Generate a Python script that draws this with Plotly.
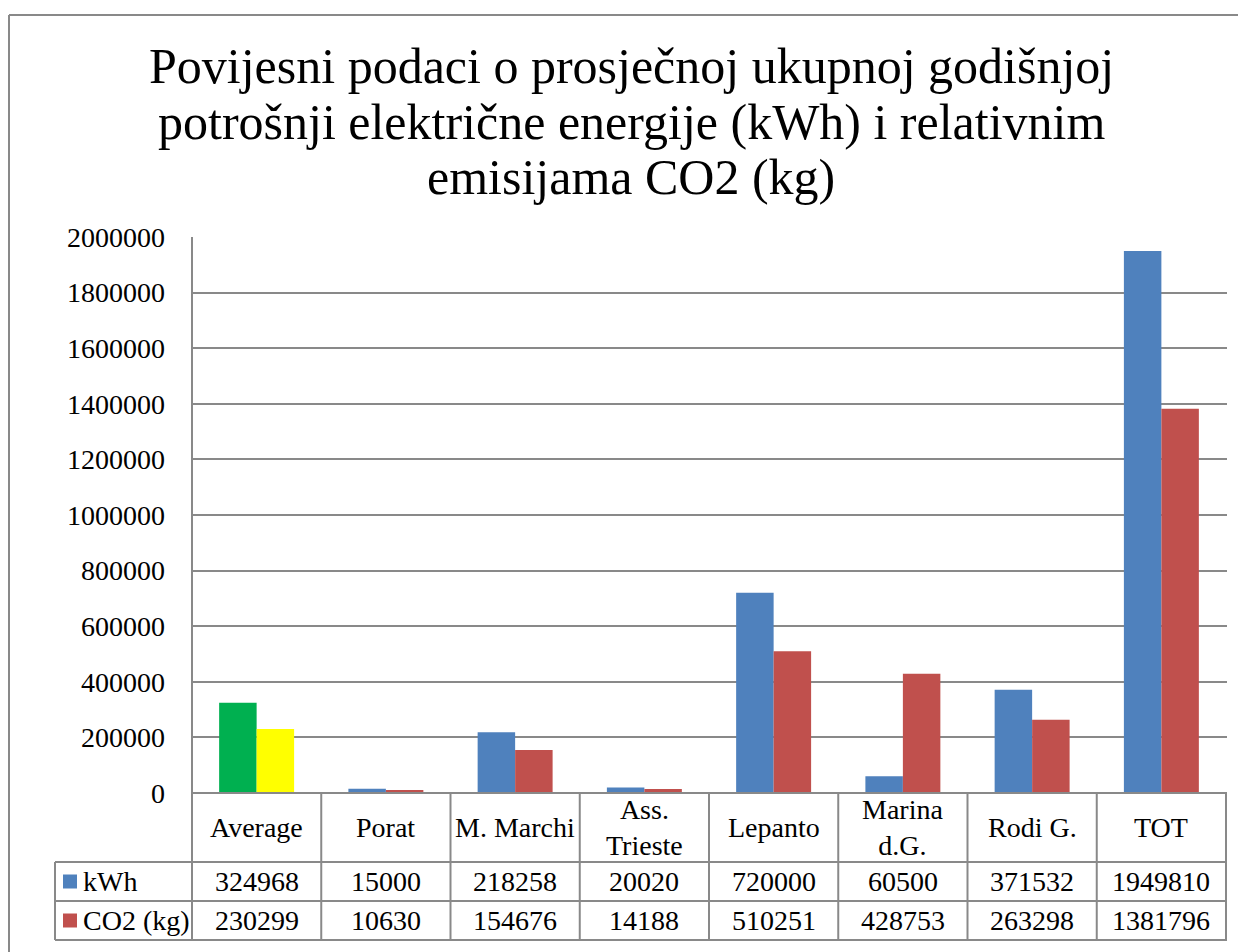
import plotly.graph_objects as go

categories = ["Average", "Porat", "M. Marchi", "Ass. Trieste", "Lepanto", "Marina d.G.", "Rodi G.", "TOT"]
table_labels = ["Average", "Porat", "M. Marchi", "Ass.<br>Trieste", "Lepanto", "Marina<br>d.G.", "Rodi G.", "TOT"]
kwh = [324968, 15000, 218258, 20020, 720000, 60500, 371532, 1949810]
co2 = [230299, 10630, 154676, 14188, 510251, 428753, 263298, 1381796]
series_names = ["kWh", "CO2 (kg)"]
y_ticks = [0, 200000, 400000, 600000, 800000, 1000000, 1200000, 1400000, 1600000, 1800000, 2000000]
title_lines = ["Povijesni podaci o prosječnoj ukupnoj godišnjoj",
               "potrošnji električne energije (kWh) i relativnim",
               "emisijama CO2 (kg)"]

BLUE, RED, GREEN, YELLOW = "#4F81BD", "#C0504D", "#00B050", "#FFFF00"
GRID = "#898989"
FONT = "Liberation Serif"

OFF = 8  # page body margin
W, H = 1246 - OFF, 952 - OFF
# plot area in reference (page) pixels
L, R, T, B = 192, 1227, 237, 793


def px(x):
    return (x - L) / (R - L)


def py(y):
    return (B - y) / (B - T)


kwh_colors = [GREEN] + [BLUE] * (len(kwh) - 1)
co2_colors = [YELLOW] + [RED] * (len(co2) - 1)

fig = go.Figure()
fig.add_trace(go.Bar(x=categories, y=kwh, name=series_names[0], marker=dict(color=kwh_colors, line=dict(width=0))))
fig.add_trace(go.Bar(x=categories, y=co2, name=series_names[1], marker=dict(color=co2_colors, line=dict(width=0))))

shapes = []
annotations = []
line_style = dict(color=GRID, width=2)

# outer chart border
shapes.append(dict(type="line", xref="paper", yref="paper", x0=px(9), x1=px(1260), y0=py(15), y1=py(15), line=line_style))
shapes.append(dict(type="line", xref="paper", yref="paper", x0=px(9), x1=px(9), y0=py(15), y1=py(970), line=line_style))

# data table geometry (page pixels)
row_tops = [793, 862, 901, 940]
label_left = 55
n = len(categories)

shapes.append(dict(type="line", xref="paper", yref="paper", x0=0, x1=0, y0=py(T), y1=py(row_tops[-1]), line=line_style))
for i in range(n):
    shapes.append(dict(type="line", xref="x", yref="paper", x0=i + 0.5, x1=i + 0.5,
                       y0=py(row_tops[0]), y1=py(row_tops[-1]), line=line_style))
shapes.append(dict(type="line", xref="paper", yref="paper", x0=0, x1=1, y0=py(row_tops[0]), y1=py(row_tops[0]), line=line_style))
for yy in row_tops[1:]:
    shapes.append(dict(type="line", xref="paper", yref="paper", x0=px(label_left), x1=1, y0=py(yy), y1=py(yy), line=line_style))
shapes.append(dict(type="line", xref="paper", yref="paper", x0=px(label_left), x1=px(label_left),
                   y0=py(row_tops[1]), y1=py(row_tops[-1]), line=line_style))

cell_font = dict(family=FONT, size=28, color="black")
for i, lab in enumerate(table_labels):
    annotations.append(dict(x=categories[i], xref="x", y=py((row_tops[0] + row_tops[1]) / 2), yref="paper",
                            text=lab, showarrow=False, xanchor="center", yanchor="middle", font=cell_font))

for r, (vals, colr, name) in enumerate([(kwh, BLUE, series_names[0]), (co2, RED, series_names[1])]):
    yc = (row_tops[r + 1] + row_tops[r + 2]) / 2
    for i, v in enumerate(vals):
        annotations.append(dict(x=categories[i], xref="x", y=py(yc), yref="paper", text=str(v), showarrow=False,
                                xanchor="center", yanchor="middle", font=cell_font))
    shapes.append(dict(type="rect", xref="paper", yref="paper", x0=px(63), x1=px(77), y0=py(yc - 7), y1=py(yc + 7),
                       fillcolor=colr, line=dict(width=0)))
    annotations.append(dict(x=px(81), xref="paper", y=py(yc), yref="paper", text=name, showarrow=False,
                            xanchor="left", yanchor="middle", font=cell_font))

# title lines (Excel-like tight line spacing)
title_centers = [66, 122, 177]
for txt, yc in zip(title_lines, title_centers):
    annotations.append(dict(x=px(631), xref="paper", y=py(yc), yref="paper", text=txt, showarrow=False,
                            xanchor="center", yanchor="middle",
                            font=dict(family=FONT, size=50, color="black")))

fig.update_layout(
    width=W, height=H,
    margin=dict(l=L - OFF, r=W - (R - OFF), t=T - OFF, b=H - (B - OFF), pad=0),
    paper_bgcolor="white", plot_bgcolor="white",
    barmode="group", bargap=0.42, bargroupgap=0,
    showlegend=False,
    xaxis=dict(showticklabels=False, ticks="", showline=False, showgrid=False, zeroline=False),
    yaxis=dict(range=[0, 2000000], tickvals=y_ticks, ticktext=[str(v) for v in y_ticks],
               showgrid=True, gridcolor=GRID, gridwidth=2, zeroline=False, showline=False,
               ticks="", ticklabelstandoff=26, tickfont=dict(family=FONT, size=28, color="black")),
    shapes=shapes, annotations=annotations,
)

fig.write_html("out.html")
